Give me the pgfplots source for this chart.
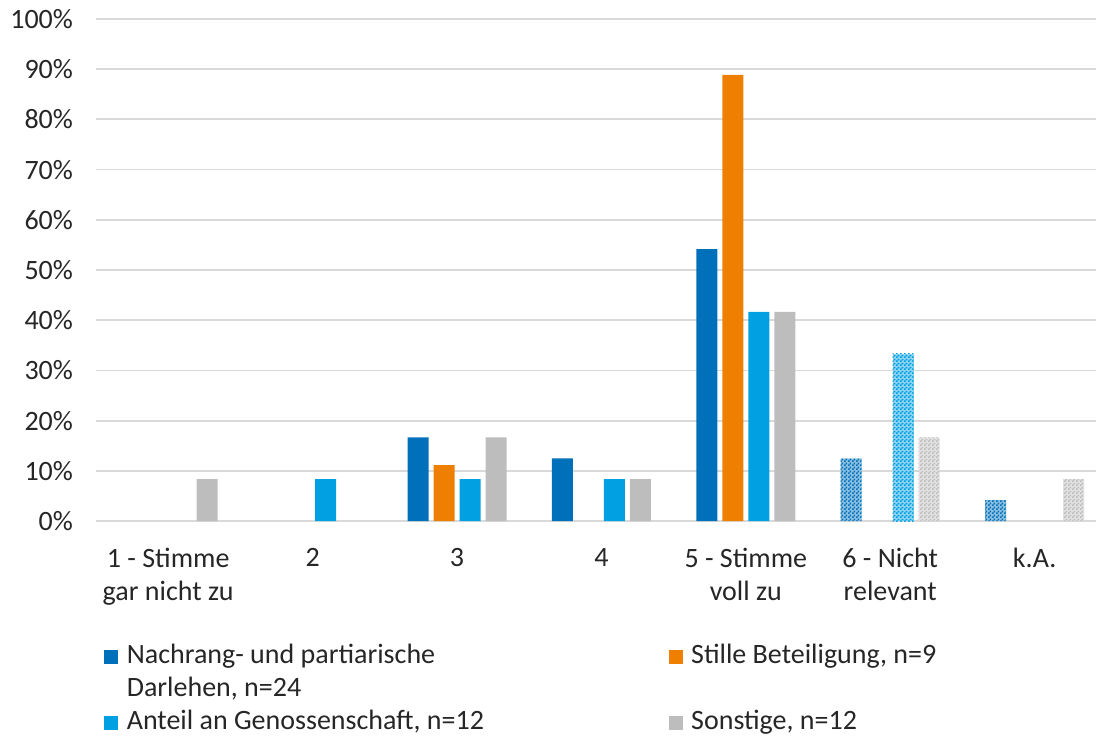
\documentclass[border=0pt]{standalone}
\usepackage{fontspec}
\setmainfont{Carlito}
\usepackage{pgfplots}
\pgfplotsset{compat=1.18}
\usetikzlibrary{patterns}
\definecolor{cA}{HTML}{0070BA}
\definecolor{cB}{HTML}{EE7F00}
\definecolor{cC}{HTML}{00A0E3}
\definecolor{cD}{HTML}{BDBDBD}
\definecolor{gridc}{HTML}{D9D9D9}
\pgfdeclarepatternformonly{finecheck}{\pgfqpoint{0pt}{0pt}}{\pgfqpoint{2pt}{2pt}}{\pgfqpoint{2pt}{2pt}}{%
  \pgfpathrectangle{\pgfqpoint{0pt}{0pt}}{\pgfqpoint{1pt}{1pt}}%
  \pgfpathrectangle{\pgfqpoint{1pt}{1pt}}{\pgfqpoint{1pt}{1pt}}%
  \pgfusepath{fill}}
\begin{document}
\begin{tikzpicture}
\path[use as bounding box] (-48pt,-108.5pt) rectangle (500pt,260.5pt);
\begin{axis}[
  at={(0pt,0pt)}, anchor=south west,
  scale only axis, width=500pt, height=251pt,
  xmin=-0.5, xmax=6.425, ymin=0, ymax=100,
  ybar, bar width=0.1454,
  axis line style={draw=none},
  major tick length=0pt,
  ymajorgrids, grid style={gridc, line width=0.9pt},
  ytick={0,10,...,100},
  yticklabels={0\%,10\%,20\%,30\%,40\%,50\%,60\%,70\%,80\%,90\%,100\%},
  xtick={0,...,6},
  xticklabels={1 - Stimme\\gar nicht zu, 2, 3, 4, 5 - Stimme\\voll zu, 6 - Nicht\\relevant, k.A.},
  tick label style={font=\fontsize{14}{16.5}\selectfont, text=black!85},
  xticklabel style={align=center, anchor=north, yshift=-10pt},
  yticklabel style={anchor=east, xshift=-8pt},
  legend columns=2,
  legend style={at={(axis description cs:0.008,-0.247)}, anchor=north west,
    draw=none, inner sep=0pt, column sep=0pt, row sep=4.5pt,
    font=\fontsize{14}{16.5}\selectfont,
    nodes={inner sep=0pt, text height=9pt, text depth=3pt, text=black!85}},
  legend cell align=left,
  legend image code/.code={\fill[#1, draw=none] (0pt,-3.5pt) rectangle (7pt,3.5pt); \path (11pt,0pt);},
  clip=false,
]
% solid bars
\addplot[fill=cA, draw=none, bar shift=-0.27, forget plot] coordinates {(2,16.67) (3,12.5) (4,54.17)};
\addplot[fill=cB, draw=none, bar shift=-0.09, forget plot] coordinates {(2,11.11) (4,88.89)};
\addplot[fill=cC, draw=none, bar shift=0.09, forget plot] coordinates {(1,8.33) (2,8.33) (3,8.33) (4,41.67)};
\addplot[fill=cD, draw=none, bar shift=0.27, forget plot] coordinates {(0,8.33) (2,16.67) (3,8.33) (4,41.67)};
% patterned bars (6 - Nicht relevant, k.A.)
\addplot[fill=cA!45, draw=none, postaction={pattern=finecheck, pattern color=cA}, bar shift=-0.27, forget plot] coordinates {(5,12.5) (6,4.17)};
\addplot[fill=cC!45, draw=none, postaction={pattern=finecheck, pattern color=cC}, bar shift=0.09, forget plot] coordinates {(5,33.33)};
\addplot[fill=cD!45, draw=none, postaction={pattern=finecheck, pattern color=cD}, bar shift=0.27, forget plot] coordinates {(5,16.67) (6,8.33)};
% legend
\addlegendimage{fill=cA}
\addlegendentry{\makebox[271pt][l]{Nachrang- und partiarische}}
\addlegendimage{fill=cB}
\addlegendentry{Stille Beteiligung, n=9}
\addlegendimage{empty legend}
\addlegendentry{\makebox[271pt][l]{Darlehen, n=24}}
\addlegendimage{empty legend}
\addlegendentry{}
\addlegendimage{fill=cC}
\addlegendentry{\makebox[271pt][l]{Anteil an Genossenschaft, n=12}}
\addlegendimage{fill=cD}
\addlegendentry{Sonstige, n=12}
\end{axis}
\end{tikzpicture}
\end{document}
